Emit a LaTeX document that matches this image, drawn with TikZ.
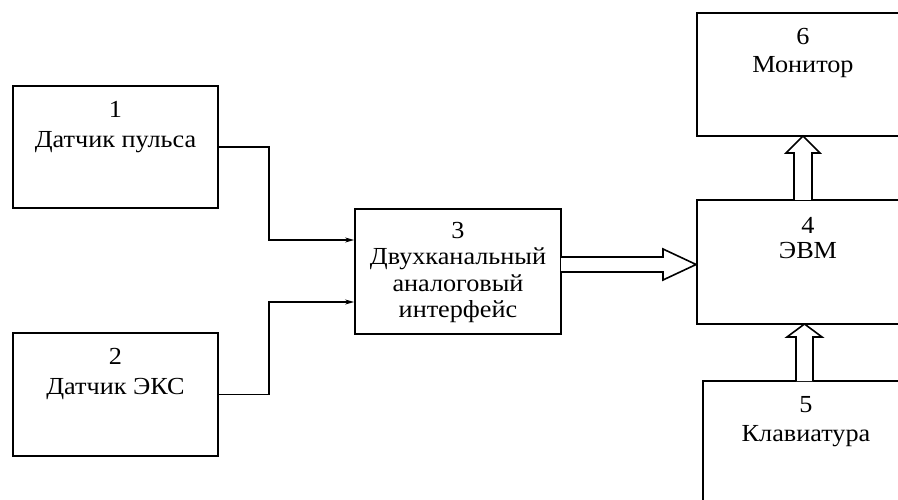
\documentclass[tikz,border=0pt]{standalone}
\usepackage{fontspec}
\setmainfont{Liberation Serif}[FakeStretch=1.07]
\usetikzlibrary{arrows.meta,calc}
\begin{document}
\begin{tikzpicture}[x=1pt,y=-1pt,
 box/.style={draw,line width=1.8pt,rectangle,inner sep=0pt},
 lbl/.style={anchor=north,align=center,font=\fontsize{24.5}{#1}\selectfont,inner sep=0pt},
 lbl/.default=27,
 wire/.style={line width=1.6pt},
 tip/.style={-{Stealth[length=9pt,width=5pt]}},
 hollow/.style={draw,line width=1.6pt,fill=white,line join=miter}]
\useasboundingbox (0,0) rectangle (898,500);
\clip (0,0) rectangle (898,500);
% boxes
\node[box,minimum width=205pt,minimum height=122pt] (b1) at (115.5,147) {};
\node[box,minimum width=205pt,minimum height=123pt] (b2) at (115.5,394.5) {};
\node[box,minimum width=206pt,minimum height=125pt] (b3) at (458,271.5) {};
\node[box,minimum width=222pt,minimum height=124pt] (b4) at (808,262) {};
\node[box,minimum width=222pt,minimum height=123pt] (b6) at (808,74.5) {};
\node[box,minimum width=206pt,minimum height=140pt] (b5) at (806,451) {};
% labels
\node[lbl=30] (t1) at (115.5,101) {1\\Датчик пульса};
\node[lbl=30] (t2) at (115.5,348) {2\\Датчик ЭКС};
\node[lbl=26.5] (t3) at (458,222) {3\\Двухканальный\\аналоговый\\интерфейс};
\node[lbl=25] (t4) at (808,217) {4\\ЭВМ};
\node[lbl=28] (t6) at (803,28) {6\\Монитор};
\node[lbl=29] (t5) at (806,396) {5\\Клавиатура};
% wires
\coordinate (in1) at ($(b3.west)+(0,-31.5)$);
\coordinate (in2) at ($(b3.west)+(0,30.5)$);
\coordinate (j) at (269,0);
\draw[wire,tip] (b1.east) -| (j |- in1) -- (in1);
\draw[wire,tip] (b2.east) -| (j |- in2) -- (in2);
% hollow arrows
\draw[hollow] (561,257) -- (663,257) -- (663,249) -- (b4.west |- 0,264.5) -- (663,280) -- (663,272) -- (561,272);
\draw[hollow] (794,200) -- (794,153) -- (786,153) -- (803,136) -- (820,153) -- (812,153) -- (812,200);
\draw[hollow] (796,381) -- (796,337) -- (787,337) -- (804.5,324) -- (822,337) -- (813,337) -- (813,381);
\end{tikzpicture}
\end{document}
